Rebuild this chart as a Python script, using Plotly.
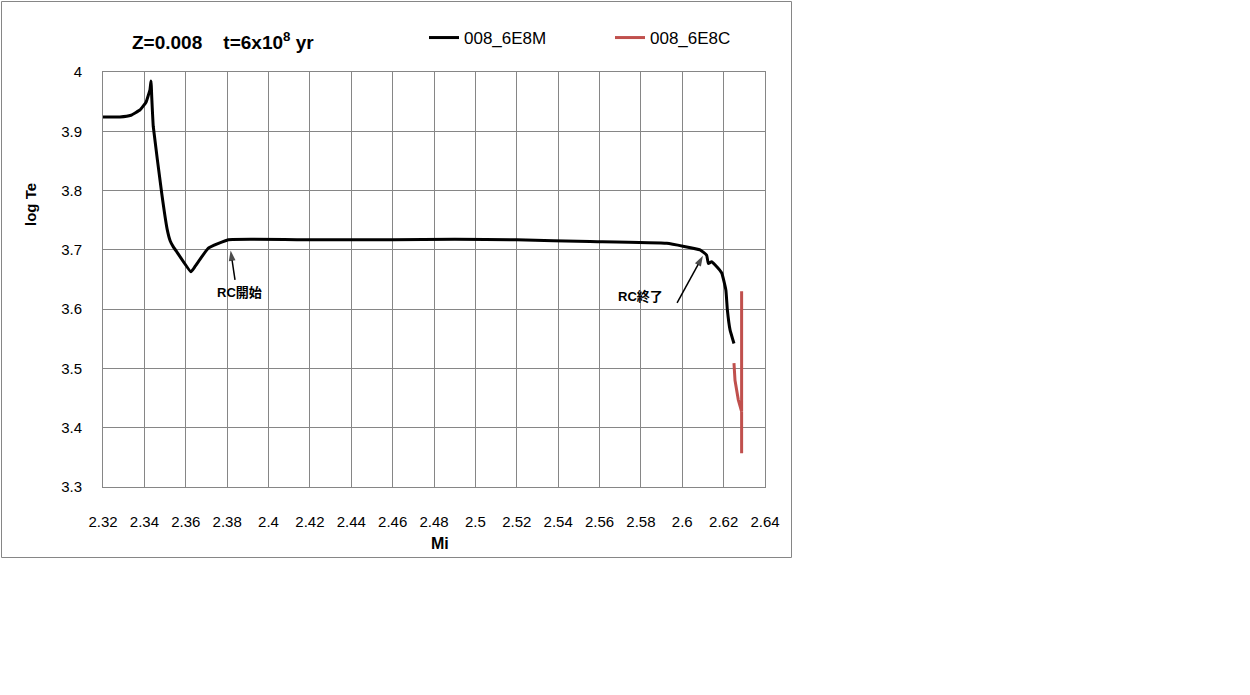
import plotly.graph_objects as go

# ---- data ----
mi_M = [2.3200, 2.3282, 2.3335, 2.3379, 2.3408, 2.3427, 2.3432, 2.3436, 2.3443, 2.3484,
        2.3510, 2.3525, 2.3540, 2.3556, 2.3625, 2.3645, 2.3709, 2.3806, 2.4200, 2.4600,
        2.4900, 2.5200, 2.5554, 2.5925, 2.6086, 2.6118, 2.6126, 2.6142, 2.6158, 2.6191,
        2.6211, 2.6218, 2.6231, 2.6250]
logTe_M = [3.924, 3.924, 3.927, 3.936, 3.949, 3.970, 3.985, 3.955, 3.908, 3.795,
           3.735, 3.715, 3.705, 3.697, 3.663, 3.672, 3.703, 3.717, 3.717, 3.717,
           3.718, 3.717, 3.714, 3.711, 3.700, 3.691, 3.677, 3.680, 3.675, 3.661,
           3.632, 3.599, 3.565, 3.542]

mi_C = [2.6250, 2.6255, 2.6271, 2.6287, 2.6287, 2.6287]
logTe_C = [3.509, 3.480, 3.447, 3.427, 3.630, 3.357]

x_ticks = [2.32, 2.34, 2.36, 2.38, 2.40, 2.42, 2.44, 2.46, 2.48, 2.50,
           2.52, 2.54, 2.56, 2.58, 2.60, 2.62, 2.64]
x_labels = ["2.32", "2.34", "2.36", "2.38", "2.4", "2.42", "2.44", "2.46", "2.48", "2.5",
            "2.52", "2.54", "2.56", "2.58", "2.6", "2.62", "2.64"]
y_ticks = [3.3, 3.4, 3.5, 3.6, 3.7, 3.8, 3.9, 4.0]
y_labels = ["3.3", "3.4", "3.5", "3.6", "3.7", "3.8", "3.9", "4"]

series_names = ["008_6E8M", "008_6E8C"]

# annotation labels and their arrows (tail -> head)
note_texts = ["RC開始", "RC終了"]
note_x = [2.3862, 2.5796]
note_y = [3.6289, 3.6205]
arrow_tail_x = [2.3838, 2.5975]
arrow_tail_y = [3.6492, 3.6104]
arrow_head_x = [2.3817, 2.6100]
arrow_head_y = [3.6990, 3.6900]

FONT = "Liberation Sans, Arial, sans-serif"
CJK = "Liberation Sans, Noto Sans CJK JP, sans-serif"
GRID = "#868686"

fig = go.Figure()
fig.add_trace(go.Scatter(x=mi_M, y=logTe_M, mode="lines", name=series_names[0],
                         line=dict(color="black", width=3, shape="spline", smoothing=0.3)))
fig.add_trace(go.Scatter(x=mi_C, y=logTe_C, mode="lines", name=series_names[1],
                         line=dict(color="#C0504D", width=3)))

for tx, ty, hx, hy in zip(arrow_tail_x, arrow_tail_y, arrow_head_x, arrow_head_y):
    fig.add_trace(go.Scatter(x=[tx, hx], y=[ty, hy], mode="lines+markers",
                             showlegend=False, hoverinfo="skip",
                             line=dict(color="black", width=1.5),
                             marker=dict(symbol=["circle", "arrow"], size=[0, 11],
                                         angleref="previous", color="black",
                                         line=dict(width=0))))

W, H = 1250, 695
L, R, T, B = 103, 765, 72, 487
pw, ph = R - L, B - T


def px_x(p):
    return (p - L) / pw


def px_y(p):
    return (B - p) / ph


fig.update_layout(
    width=W, height=H,
    margin=dict(l=L, r=W - R, t=T, b=H - B, pad=0),
    paper_bgcolor="white", plot_bgcolor="white",
    font=dict(family=FONT, size=15, color="black"),
    showlegend=True,
    legend=dict(orientation="h", x=px_x(424), y=px_y(38), xanchor="left", yanchor="middle",
                font=dict(family=FONT, size=17), entrywidth=141, entrywidthmode="pixels",
                bgcolor="rgba(0,0,0,0)", itemwidth=30),
)

fig.update_xaxes(range=[2.32, 2.64], tickvals=x_ticks, ticktext=x_labels,
                 showgrid=True, gridcolor=GRID, gridwidth=1,
                 showline=True, linecolor=GRID, linewidth=1, mirror=True,
                 zeroline=False, ticks="", ticklabelstandoff=21,
                 tickfont=dict(family=FONT, size=15))
fig.update_yaxes(range=[3.3, 4.0], tickvals=y_ticks, ticktext=y_labels,
                 showgrid=True, gridcolor=GRID, gridwidth=1,
                 showline=True, linecolor=GRID, linewidth=1, mirror=True,
                 zeroline=False, ticks="", ticklabelstandoff=17,
                 tickfont=dict(family=FONT, size=15))

# outer chart border
fig.add_shape(type="rect", xref="paper", yref="paper",
              x0=px_x(1.5), x1=px_x(791.5), y0=px_y(557.5), y1=px_y(1.5),
              line=dict(color=GRID, width=1), fillcolor="rgba(0,0,0,0)", layer="below")

# title
fig.add_annotation(xref="paper", yref="paper", x=px_x(130), y=px_y(41),
                   xanchor="left", yanchor="middle", showarrow=False,
                   text="<b>Z=0.008    t=6x10<sup>8</sup> yr</b>",
                   font=dict(family=FONT, size=19))
# axis titles
fig.add_annotation(xref="paper", yref="paper", x=px_x(440), y=px_y(543),
                   xanchor="center", yanchor="middle", showarrow=False,
                   text="<b>Mi</b>", font=dict(family=FONT, size=16))
fig.add_annotation(xref="paper", yref="paper", x=px_x(30), y=px_y(205),
                   xanchor="center", yanchor="middle", showarrow=False, textangle=-90,
                   text="<b>log Te</b>", font=dict(family=FONT, size=15))

# RC labels
for t, x, y in zip(note_texts, note_x, note_y):
    fig.add_annotation(x=x, y=y, xref="x", yref="y", showarrow=False,
                       text="<b>" + t + "</b>", font=dict(family=CJK, size=13))

fig.write_html("out.html", config={"displayModeBar": False},
               post_script="document.body.style.margin='0';")
